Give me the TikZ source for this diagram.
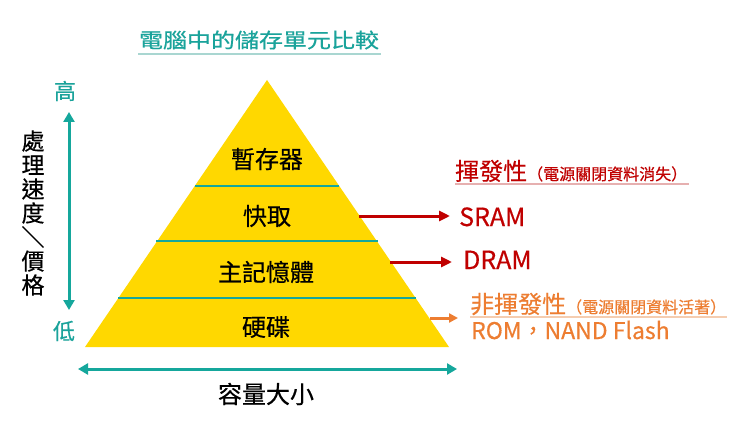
\documentclass[tikz,border=0pt]{standalone}
\usepackage{fontspec}
\setmainfont[FakeBold=0.5]{Noto Sans CJK TC}
\usetikzlibrary{arrows.meta}
\definecolor{teal1}{HTML}{15A79C}
\definecolor{tealtxt}{HTML}{1AA39B}
\definecolor{tealline}{HTML}{A9D6D1}
\definecolor{pyr}{HTML}{FFD800}
\definecolor{redc}{HTML}{C00000}
\definecolor{redline}{HTML}{E6B0B0}
\definecolor{orangec}{HTML}{ED7D31}
\definecolor{orangeline}{HTML}{F5CDB0}
\newcommand\fsz[1]{\fontsize{#1}{#1}\selectfont}
\begin{document}
\begin{tikzpicture}[x=1pt,y=-1pt,
 lbl/.style={inner sep=0pt, font=\fsz{24}},
 divider/.style={draw=teal1, line width=2pt},
 axisarrow/.style={draw=teal1, line width=3pt, {Triangle[length=10pt,width=11pt]}-{Triangle[length=10pt,width=11pt]}},
 redarrow/.style={draw=redc, line width=3pt, -{Triangle[length=11pt,width=10pt]}},
 orarrow/.style={draw=orangec, line width=3pt, -{Triangle[length=9pt,width=9pt]}}]
\useasboundingbox (0,0) rectangle (739,433);
\fill[white] (0,0) rectangle (739,433);
% title
\node[inner sep=0pt, font=\fsz{24}, text=tealtxt] (title) at (259,40) {\scalebox{1}[0.85]{電腦中的儲存單元比較}};
\draw[tealline, line width=1.5pt] (138,54) -- (381,54);
% pyramid
\coordinate (apex) at (267,80);
\coordinate (bl) at (85,347);
\coordinate (br) at (449,347);
\fill[pyr] (apex) -- (br) -- (bl) -- cycle;
\draw[divider] (195,186) -- (339,186);
\draw[divider] (156,241) -- (378,241);
\draw[divider] (118,298) -- (416,298);
\node[lbl] (reg) at (267,159) {暫存器};
\node[lbl] (cache) at (267,216) {快取};
\node[lbl] (mem) at (266,272) {主記憶體};
\node[lbl] (disk) at (266,327) {硬碟};
% edge coordinates
\coordinate (e1) at (359,216);
\coordinate (e2) at (390,262);
\coordinate (e3) at (430,318);
% right texts
\node[anchor=base west, inner sep=0pt, text=redc] (vol) at (455,180) {\fsz{24}揮發性\fsz{16}（電源關閉資料消失）};
\draw[redline, line width=1.5pt] (455,184) -- (689,184);
\node[anchor=base west, inner sep=0pt, text=redc, font=\fsz{25}] (sram) at (459,226) {SRAM};
\node[anchor=base west, inner sep=0pt, text=redc, font=\fsz{25}] (dram) at (463,269) {DRAM};
\node[anchor=base west, inner sep=0pt, text=orangec] (nv) at (470,313) {\fsz{24}非揮發性\fsz{16}（電源關閉資料活著）};
\draw[orangeline, line width=1.5pt] (470,317) -- (727,317);
\node[anchor=base west, inner sep=0pt, text=orangec, font=\fsz{23}] (rom) at (471,339) {ROM，NAND Flash};
\draw[redarrow, shorten >=9pt] (e1) -- (e1 -| sram.west);
\draw[redarrow, shorten >=11pt] (e2) -- (e2 -| dram.west);
\draw[orarrow, shorten >=12pt] (e3) -- (e3 -| nv.west);
% left axis
\node[inner sep=0pt, font=\fsz{22}, text=tealtxt] (high) at (65,91) {高};
\node[inner sep=0pt, font=\fsz{22}, text=tealtxt] (low) at (64,331) {低};
\coordinate (vt) at (69,112);
\coordinate (vb) at (69,310);
\draw[axisarrow] (vt) -- (vb);
\node[inner sep=0pt, align=center, font=\fontsize{23}{24}\selectfont] (speed) at (33,213) {處\\理\\速\\度\\＼\\價\\格};
% bottom axis
\coordinate (hl) at (78,369);
\coordinate (hr) at (457,369);
\draw[axisarrow] (hl) -- (hr);
\node[lbl] (cap) at (266,394) {容量大小};
\end{tikzpicture}
\end{document}
